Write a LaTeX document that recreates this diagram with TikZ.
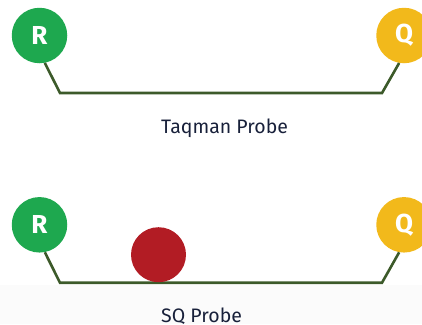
\documentclass[tikz,border=0pt]{standalone}
\usepackage{fontspec}
\setmainfont{Fira Sans}
\definecolor{rgreen}{HTML}{1EA84F}
\definecolor{qyellow}{HTML}{F2B91B}
\definecolor{sred}{HTML}{B21C24}
\definecolor{lineg}{HTML}{3C5A2A}
\definecolor{txt}{HTML}{18203A}
\definecolor{bgfoot}{HTML}{FBFBFB}
\tikzset{
  dye/.style={circle, minimum size=55.5pt, inner sep=0pt, text=white, font=\fontsize{26}{26}\selectfont\bfseries},
  rdye/.style={dye, fill=rgreen},
  qdye/.style={dye, fill=qyellow},
  sqball/.style={circle, minimum size=55pt, inner sep=0pt, fill=sred},
  probe/.style={draw=lineg, line width=2.6pt, line join=miter},
  caption/.style={anchor=base west, inner sep=0pt, text=txt, font=\fontsize{19.5}{19.5}\selectfont}
}
\begin{document}
\begin{tikzpicture}[x=1pt,y=-1pt]
\useasboundingbox (0,0) rectangle (422,324);
\fill[bgfoot] (0,285) rectangle (422,324);
% Taqman probe
\node[rdye] (r1) at (39.5,35.5) {R};
\node[qdye] (q1) at (404,35.5) {Q};
\coordinate (a1) at (60,93);
\coordinate (b1) at (382,93);
\draw[probe] (r1.-79) -- (a1) -- (b1) -- (q1.-100);
\node[caption] (t1) at (161,133) {Taqman Probe};
% SQ probe
\node[rdye] (r2) at (39.5,224.8) {R};
\node[qdye] (q2) at (404,224.8) {Q};
\coordinate (a2) at (60,282.7);
\coordinate (b2) at (382,282.7);
\draw[probe] (r2.-79) -- (a2) -- (b2) -- (q2.-100);
\node[sqball] (s2) at (158.5,254.7) {};
\node[caption] (t2) at (161,322.5) {SQ Probe};
\end{tikzpicture}
\end{document}
